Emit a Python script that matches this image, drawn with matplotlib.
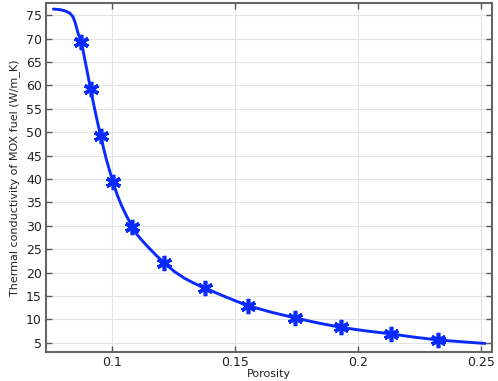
import matplotlib
matplotlib.use("Agg")
import matplotlib.pyplot as plt

# Curve
line_x = [0.0763, 0.0790, 0.0812, 0.0831, 0.0843, 0.0851, 0.0864, 0.0877, 0.0896, 0.0914,
          0.0934, 0.0955, 0.0979, 0.1005, 0.1023, 0.1039, 0.1059, 0.1084, 0.1100, 0.1119,
          0.1145, 0.1180, 0.1214, 0.1255, 0.1295, 0.1335, 0.1379, 0.1420, 0.1465, 0.1510,
          0.1555, 0.1650, 0.1746, 0.1836, 0.1929, 0.2030, 0.2134, 0.2228, 0.2325, 0.2425,
          0.2516]
line_y = [76.3, 76.2, 75.9, 75.4, 74.6, 73.5, 71.0, 69.2, 64.1, 59.2,
          54.1, 49.1, 44.0, 39.3, 36.5, 34.4, 32.2, 29.7, 28.3, 27.1,
          25.6, 23.7, 22.0, 20.2, 18.8, 17.7, 16.7, 15.75, 14.75, 13.8,
          12.9, 11.5, 10.3, 9.25, 8.3, 7.55, 6.9, 6.2, 5.6, 5.2,
          4.85]

# Marker positions
marker_x = [0.0877, 0.0914, 0.0955, 0.1005, 0.1084, 0.1214, 0.1379, 0.1555,
            0.1746, 0.1929, 0.2134, 0.2325]
marker_y = [69.2, 59.2, 49.1, 39.3, 29.7, 22.0, 16.7, 12.9, 10.3, 8.3, 6.9, 5.6]

xticks = [0.1, 0.15, 0.2, 0.25]
xtick_labels = ["0.1", "0.15", "0.2", "0.25"]
yticks = list(range(5, 80, 5))

color = "#0a2bff"

fig = plt.figure(figsize=(4.98, 3.81), dpi=100)
ax = fig.add_axes([0.0924, 0.077, 0.896, 0.915])

ax.plot(line_x, line_y, color=color, lw=2.1, solid_capstyle="round",
        solid_joinstyle="round", zorder=3)
ax.plot(marker_x, marker_y, linestyle="none", marker=(6, 2, 0), markersize=11,
        markeredgewidth=2.6, color=color, markeredgecolor=color, zorder=4)

ax.set_xlim(0.0733, 0.2545)
ax.set_ylim(3.1, 77.6)
ax.set_xticks(xticks)
ax.set_xticklabels(xtick_labels)
ax.set_yticks(yticks)

ax.grid(True, color="#e3e3e3", lw=0.8)
ax.set_axisbelow(True)
ax.tick_params(direction="in", top=True, right=True, length=4, width=1,
               colors="#555555", labelcolor="#222222", labelsize=9, pad=3)
for s in ax.spines.values():
    s.set_color("#666666")
    s.set_linewidth(1.5)

ax.set_xlabel("Porosity", fontsize=8, color="#222222", labelpad=0)
ax.set_ylabel("Thermal conductivity of MOX fuel (W/m_K)", fontsize=8,
              color="#222222", labelpad=4)

fig.savefig("out.png", dpi=100)
